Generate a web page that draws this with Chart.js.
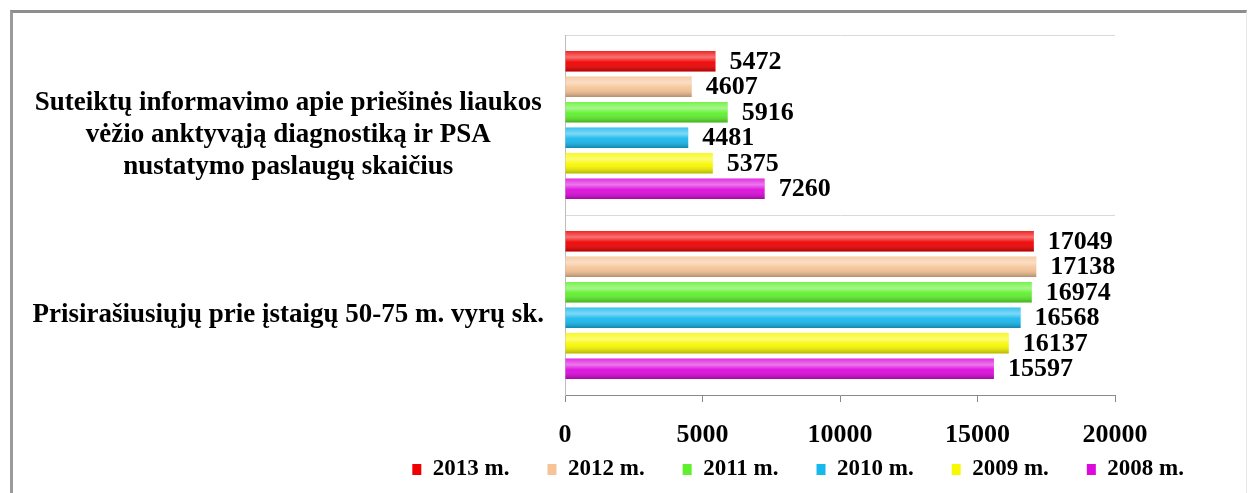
<!DOCTYPE html>
<html>
<head>
<meta charset="utf-8">
<script src="https://cdn.jsdelivr.net/npm/chart.js@4.4.0/dist/chart.umd.min.js"></script>
<style>
    html, body { margin: 0; padding: 0; background: #fff; overflow: hidden; }
    #wrap { position: relative; width: 1251px; height: 493px; }
    #frame {
        position: absolute; left: 10px; top: 10px; width: 1233px; height: 500px;
        border-left: 3px solid #9b9b9b; border-top: 3px solid #8e8e8e; border-right: 1px solid #e6e6e6;
        pointer-events: none;
    }
    canvas { position: absolute; left: 0; top: 0; }
</style>
</head>
<body>
<div id="wrap">
    <canvas id="chart" width="1251" height="493"></canvas>
    <div id="frame"></div>
</div>
<script>
// Categories (y axis) and series values
const categories = [
    ['Suteiktų informavimo apie priešinės liaukos', 'vėžio anktyvąją diagnostiką ir PSA', 'nustatymo paslaugų skaičius'],
    'Prisirašiusiųjų prie įstaigų 50-75 m. vyrų sk.'
];
const seriesNames = ['2013 m.', '2012 m.', '2011 m.', '2010 m.', '2009 m.', '2008 m.'];
const values2013 = [5472, 17049];
const values2012 = [4607, 17138];
const values2011 = [5916, 16974];
const values2010 = [4481, 16568];
const values2009 = [5375, 16137];
const values2008 = [7260, 15597];
const xTickValues = [0, 5000, 10000, 15000, 20000];

const seriesColors = ['#f00000', '#f6c396', '#5ef02c', '#16b8ee', '#f8f800', '#dc0adc'];
const FONT = '"Liberation Serif", "Times New Roman", serif';

// 3D-ish shine on top of each bar
const barShine = {
    id: 'barShine',
    afterDatasetsDraw(chart) {
        const ctx = chart.ctx;
        chart.data.datasets.forEach((ds, i) => {
            chart.getDatasetMeta(i).data.forEach(el => {
                const p = el.getProps(['x', 'y', 'base', 'height'], true);
                const left = Math.min(p.base, p.x);
                const w = Math.abs(p.x - p.base);
                const top = p.y - p.height / 2;
                const g = ctx.createLinearGradient(0, top, 0, top + p.height);
                g.addColorStop(0, 'rgba(255,255,255,0.15)');
                g.addColorStop(0.3, 'rgba(255,255,255,0.45)');
                g.addColorStop(0.55, 'rgba(255,255,255,0.05)');
                g.addColorStop(1, 'rgba(0,0,0,0.28)');
                ctx.save();
                ctx.fillStyle = g;
                ctx.fillRect(left, top, w, p.height);
                ctx.restore();
            });
        });
    }
};

// value labels right of the bars
const valueLabels = {
    id: 'valueLabels',
    afterDatasetsDraw(chart) {
        const ctx = chart.ctx;
        ctx.save();
        ctx.font = 'bold 26px ' + FONT;
        ctx.fillStyle = '#000';
        ctx.textAlign = 'left';
        ctx.textBaseline = 'middle';
        chart.data.datasets.forEach((ds, i) => {
            chart.getDatasetMeta(i).data.forEach((el, j) => {
                ctx.fillText(String(ds.data[j]), el.x + 14, el.y + 1);
            });
        });
        ctx.restore();
    }
};

const seriesValues = [values2013, values2012, values2011, values2010, values2009, values2008];

new Chart(document.getElementById('chart'), {
    type: 'bar',
    data: {
        labels: categories,
        datasets: seriesNames.map((name, i) => ({
            label: name,
            data: seriesValues[i],
            backgroundColor: seriesColors[i],
            borderWidth: 0,
            categoryPercentage: 0.85,
            barPercentage: 0.8
        }))
    },
    options: {
        indexAxis: 'y',
        responsive: false,
        animation: false,
        layout: { padding: { left: 14, right: 29, top: 35, bottom: 2 } },
        scales: {
            x: {
                min: 0,
                max: 20000,
                afterBuildTicks(scale) {
                    scale.ticks = xTickValues.map(v => ({ value: v }));
                },
                afterFit(scale) {
                    scale.height = 25;
                    // tick labels hang below into the legend band, so don't clip them
                    scale._computeLabelArea = () => null;
                },
                grid: { drawOnChartArea: false, drawTicks: true, tickLength: 7, color: '#8a8a8a' },
                border: { color: '#8a8a8a' },
                ticks: {
                    padding: 18,
                    color: '#000',
                    font: { family: FONT, size: 26, weight: 'bold' },
                    callback: value => String(value)
                }
            },
            y: {
                afterFit(scale) {
                    scale.width = 551;
                    scale.paddingTop = 0;
                    scale.paddingBottom = 0;
                },
                grid: { offset: true, drawTicks: false, color: '#d9d9d9' },
                border: { color: '#bcbcbc' },
                ticks: {
                    crossAlign: 'center',
                    padding: 21,
                    labelOffset: 10,
                    color: '#000',
                    font: { family: FONT, size: 27, weight: 'bold', lineHeight: 1.2 }
                }
            },
            yR: {
                type: 'linear',
                position: 'right',
                grid: { display: false, drawTicks: false },
                border: { display: false },
                ticks: { display: false },
                afterFit(scale) { scale.width = 107; }
            }
        },
        plugins: {
            legend: {
                position: 'bottom',
                align: 'end',
                labels: {
                    boxWidth: 9,
                    boxHeight: 11,
                    padding: 38,
                    color: '#000',
                    font: { family: FONT, size: 23, weight: 'bold' }
                }
            },
            tooltip: { enabled: false }
        }
    },
    plugins: [barShine, valueLabels]
});
</script>
</body>
</html>
